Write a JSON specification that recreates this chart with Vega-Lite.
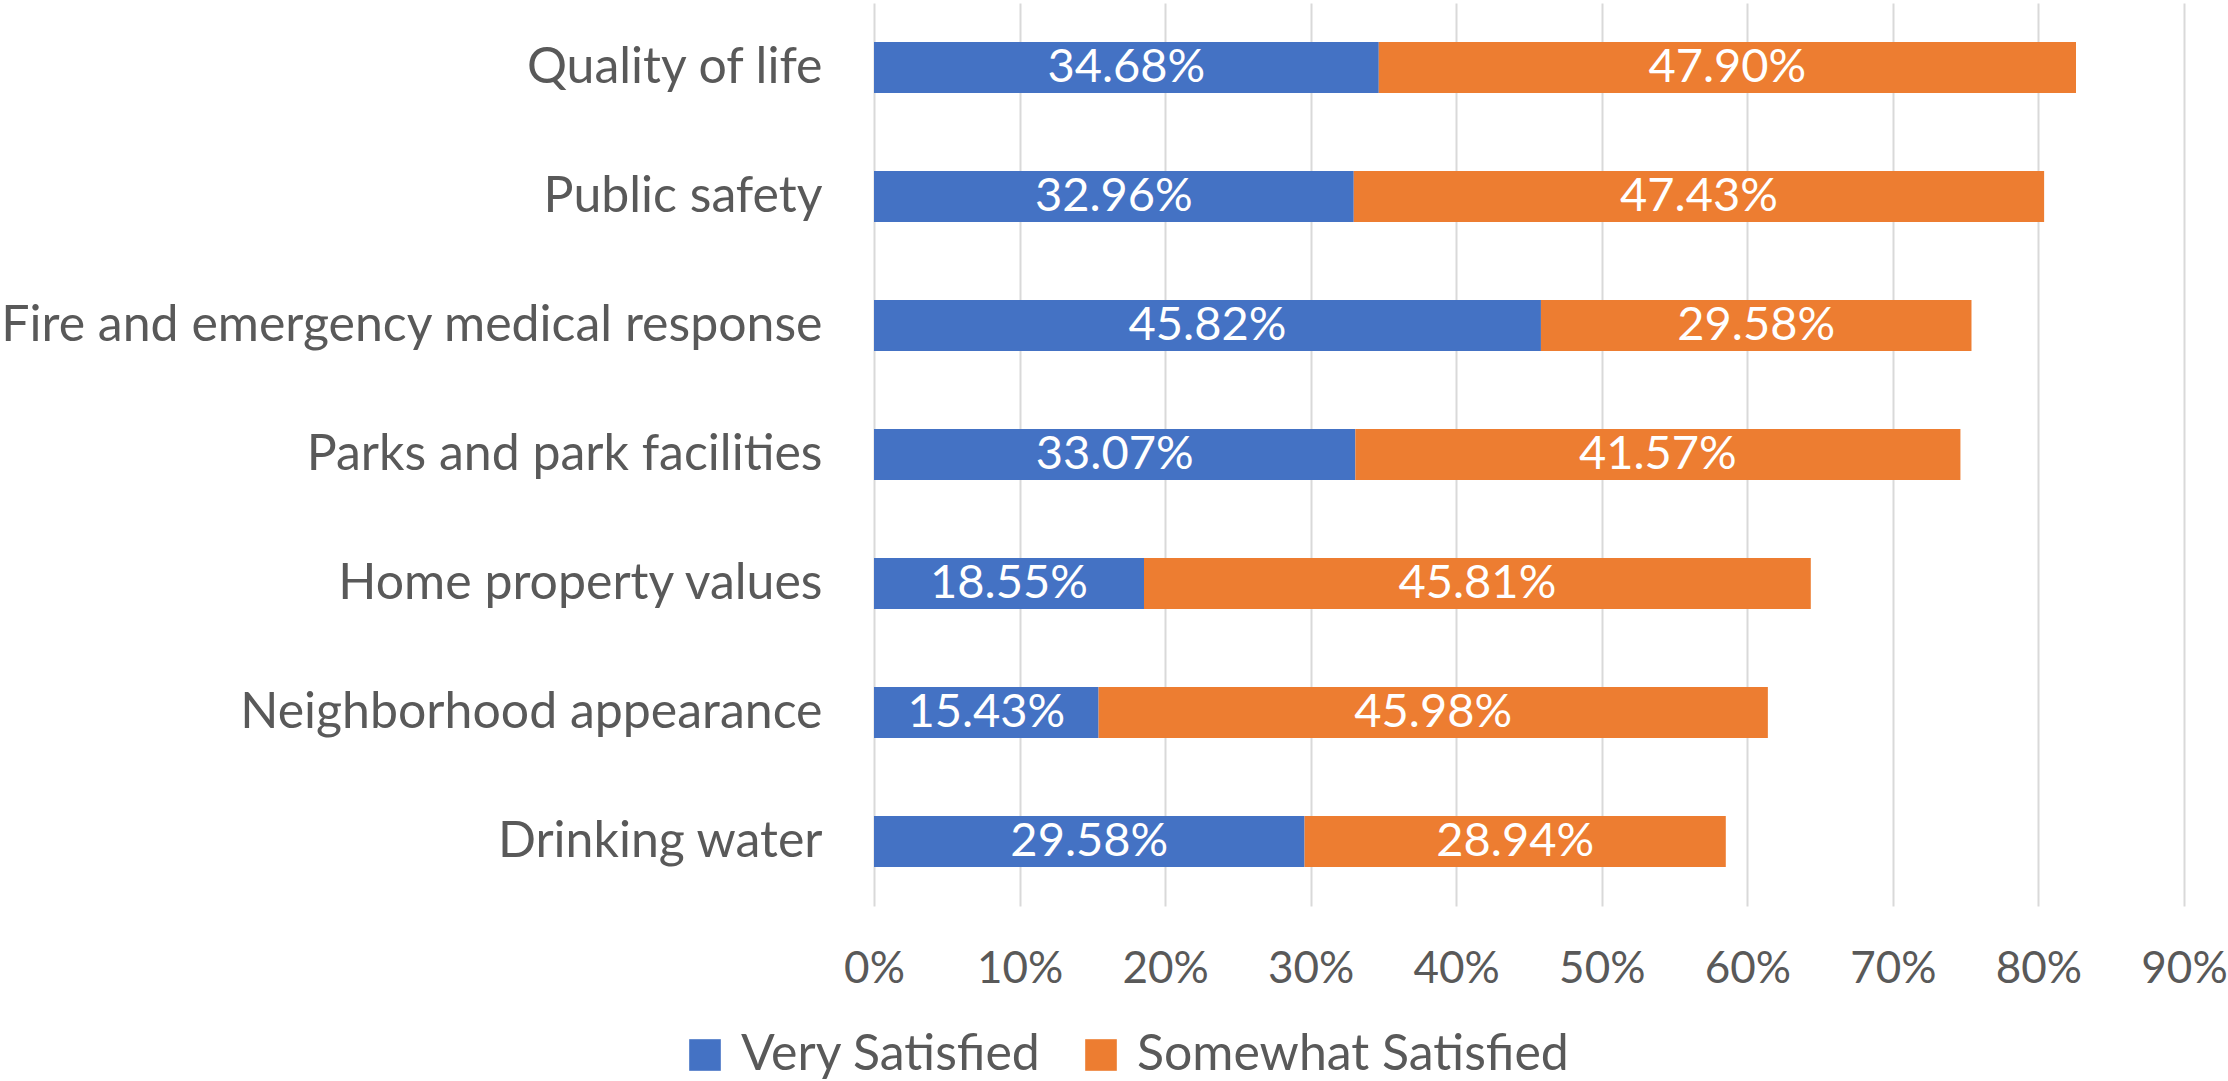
{
  "$schema": "https://vega.github.io/schema/vega-lite/v6.json",
  "width": 1310,
  "height": 903,
  "autosize": {"type": "none"},
  "padding": {"left": 874, "top": 3, "right": 44, "bottom": 175},
  "background": "white",
  "config": {"view": {"stroke": null}, "font": "Lato"},
  "data": {
    "values": [
      {"category": "Quality of life", "series": "Very Satisfied", "value": 0.3468},
      {"category": "Quality of life", "series": "Somewhat Satisfied", "value": 0.4790},
      {"category": "Public safety", "series": "Very Satisfied", "value": 0.3296},
      {"category": "Public safety", "series": "Somewhat Satisfied", "value": 0.4743},
      {"category": "Fire and emergency medical response", "series": "Very Satisfied", "value": 0.4582},
      {"category": "Fire and emergency medical response", "series": "Somewhat Satisfied", "value": 0.2958},
      {"category": "Parks and park facilities", "series": "Very Satisfied", "value": 0.3307},
      {"category": "Parks and park facilities", "series": "Somewhat Satisfied", "value": 0.4157},
      {"category": "Home property values", "series": "Very Satisfied", "value": 0.1855},
      {"category": "Home property values", "series": "Somewhat Satisfied", "value": 0.4581},
      {"category": "Neighborhood appearance", "series": "Very Satisfied", "value": 0.1543},
      {"category": "Neighborhood appearance", "series": "Somewhat Satisfied", "value": 0.4598},
      {"category": "Drinking water", "series": "Very Satisfied", "value": 0.2958},
      {"category": "Drinking water", "series": "Somewhat Satisfied", "value": 0.2894}
    ]
  },
  "encoding": {
    "y": {
      "field": "category",
      "type": "nominal",
      "sort": null,
      "scale": {"paddingInner": 0.605, "paddingOuter": 0.3025},
      "axis": {
        "title": null,
        "domain": false,
        "ticks": false,
        "tickSize": 0,
        "labelFontSize": 50,
        "labelFont": "Lato",
        "labelColor": "#595959",
        "labelPadding": 52,
        "labelLimit": 1000
      }
    }
  },
  "layer": [
    {
      "mark": {"type": "bar"},
      "encoding": {
        "x": {
          "field": "value",
          "type": "quantitative",
          "stack": "zero",
          "scale": {"domain": [0, 0.9], "nice": false, "zero": true},
          "axis": {
            "title": null,
            "values": [0, 0.1, 0.2, 0.3, 0.4, 0.5, 0.6, 0.7, 0.8, 0.9],
            "format": ".0%",
            "grid": true,
            "gridColor": "#D9D9D9",
            "gridWidth": 2,
            "domain": false,
            "ticks": false,
            "tickSize": 0,
            "labelFontSize": 44,
            "labelFont": "Lato",
            "labelColor": "#595959",
            "labelBaseline": "alphabetic",
            "labelPadding": 76,
            "labelFlush": false,
            "labelOverlap": false
          }
        },
        "color": {
          "field": "series",
          "type": "nominal",
          "scale": {"domain": ["Very Satisfied", "Somewhat Satisfied"], "range": ["#4472C4", "#ED7D31"]},
          "legend": {
            "title": null,
            "orient": "none",
            "direction": "horizontal",
            "legendX": -194,
            "legendY": 1027,
            "symbolType": "square",
            "symbolSize": 1000,
            "symbolStrokeWidth": 0,
            "symbolOpacity": 1,
            "labelFontSize": 50,
            "labelFont": "Lato",
            "labelColor": "#595959",
            "labelOffset": 11,
            "columnPadding": 34,
            "padding": 0,
            "labelLimit": 1000
          }
        },
        "order": {"field": "series", "sort": "descending"}
      }
    },
    {
      "mark": {"type": "text", "color": "white", "fontSize": 47, "font": "Lato"},
      "encoding": {
        "x": {"field": "value", "type": "quantitative", "stack": "zero", "bandPosition": 0.5},
        "detail": {"field": "series"},
        "order": {"field": "series", "sort": "descending"},
        "text": {"field": "value", "type": "quantitative", "format": ".2%"}
      }
    }
  ]
}
